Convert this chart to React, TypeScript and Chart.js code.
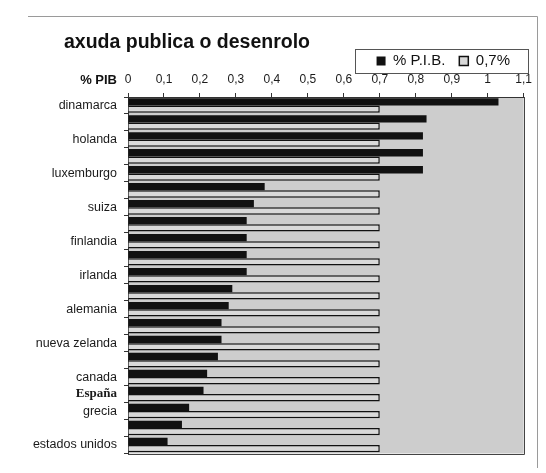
import React, { useEffect, useRef } from 'react';
import { Chart, registerables } from 'chart.js';

Chart.register(...registerables);

const FONT = '"Liberation Sans", Arial, Helvetica, sans-serif';

const titleText = 'axuda publica o desenrolo';
const axisTitle = '% PIB';

const categories = [
  'dinamarca', '', 'holanda', '', 'luxemburgo', '', 'suiza', '', 'finlandia', '',
  'irlanda', '', 'alemania', '', 'nueva zelanda', '', 'canada', 'España', 'grecia', '',
  'estados unidos',
];

const pibValues = [
  1.03, 0.83, 0.82, 0.82, 0.82, 0.38, 0.35, 0.33, 0.33, 0.33,
  0.33, 0.29, 0.28, 0.26, 0.26, 0.25, 0.22, 0.21, 0.17, 0.15,
  0.11,
];

const targetValues = [
  0.7, 0.7, 0.7, 0.7, 0.7, 0.7, 0.7, 0.7, 0.7, 0.7,
  0.7, 0.7, 0.7, 0.7, 0.7, 0.7, 0.7, 0.7, 0.7, 0.7,
  0.7,
];

const seriesLabels = ['% P.I.B.', '0,7%'];

const xMin = 0;
const xMax = 1.1;
const xStep = 0.1;

const decorPlugin = {
  id: 'decor',
  beforeDraw(chart: any) {
    const { ctx, chartArea: a } = chart;
    ctx.save();
    ctx.fillStyle = '#cdcdcd';
    ctx.fillRect(a.left, a.top, a.right - a.left, a.bottom - a.top);
    ctx.restore();
  },
  afterDraw(chart: any) {
    const { ctx, chartArea: a } = chart;
    ctx.save();
    // plot right & bottom border
    ctx.strokeStyle = '#444';
    ctx.lineWidth = 1;
    ctx.beginPath();
    ctx.moveTo(Math.round(a.right) + 0.5, a.top);
    ctx.lineTo(Math.round(a.right) + 0.5, Math.round(a.bottom) + 0.5);
    ctx.lineTo(a.left, Math.round(a.bottom) + 0.5);
    ctx.stroke();

    // outer frame
    ctx.strokeStyle = '#9a9a9a';
    ctx.beginPath();
    ctx.moveTo(20, 8.5);
    ctx.lineTo(529.5, 8.5);
    ctx.lineTo(529.5, 460);
    ctx.stroke();

    // title
    ctx.fillStyle = '#111';
    ctx.font = `bold 19.5px ${FONT}`;
    ctx.textAlign = 'left';
    ctx.textBaseline = 'alphabetic';
    ctx.fillText(titleText, 56, 40);

    // axis label
    ctx.font = `bold 13px ${FONT}`;
    ctx.textAlign = 'right';
    ctx.textBaseline = 'middle';
    ctx.fillText(axisTitle, 109, 72);

    // legend border
    const lg = chart.legend;
    if (lg && lg.legendHitBoxes && lg.legendHitBoxes.length) {
      const hb = lg.legendHitBoxes;
      let minL = Infinity, minT = Infinity, maxB = -Infinity;
      hb.forEach((h: any) => {
        minL = Math.min(minL, h.left);
        minT = Math.min(minT, h.top);
        maxB = Math.max(maxB, h.top + h.height);
      });
      ctx.strokeStyle = '#555';
      ctx.lineWidth = 1;
      const l = Math.round(minL - 22) + 0.5;
      const r = Math.round(a.right + 4) + 0.5;
      const t = Math.round(minT - 5) + 0.5;
      const b = Math.round(maxB + 4) + 0.5;
      ctx.strokeRect(l, t, r - l, b - t);
    }
    ctx.restore();
  },
};

function formatTick(v: number) {
  const r = Math.round(v * 10) / 10;
  return String(r).replace('.', ',');
}

export default function App() {
  const ref = useRef<HTMLCanvasElement | null>(null);

  useEffect(() => {
    if (!ref.current) return;
    const chart = new Chart(ref.current, {
      type: 'bar',
      data: {
        labels: categories,
        datasets: [
          {
            label: seriesLabels[0],
            data: pibValues,
            backgroundColor: '#111111',
            borderWidth: 0,
            categoryPercentage: 0.86,
            barPercentage: 1,
          },
          {
            label: seriesLabels[1],
            data: targetValues,
            backgroundColor: '#d9d9d9',
            borderColor: '#111111',
            borderWidth: 1.5,
            categoryPercentage: 0.86,
            barPercentage: 1,
          },
        ],
      },
      plugins: [decorPlugin],
      options: {
        indexAxis: 'y',
        animation: false,
        responsive: true,
        maintainAspectRatio: false,
        layout: { padding: { left: 10, right: 14, top: 31.5, bottom: 10 } },
        plugins: {
          title: { display: false },
          tooltip: { enabled: false },
          legend: {
            display: true,
            position: 'top',
            align: 'end',
            maxHeight: 32.5,
            labels: {
              boxWidth: 9,
              boxHeight: 9,
              padding: 14,
              color: '#111',
              font: { family: FONT, size: 15 },
            },
          },
        },
        scales: {
          x: {
            type: 'linear',
            position: 'top',
            min: xMin,
            max: xMax,
            ticks: {
              stepSize: xStep,
              padding: 6,
              color: '#1a1a1a',
              font: { family: FONT, size: 12 },
              callback: (v: any) => formatTick(Number(v)),
            },
            grid: { display: true, drawOnChartArea: false, drawTicks: true, tickLength: 4, color: '#333' },
            border: { display: true, color: '#333', width: 1 },
            afterFit: (s: any) => { s.height = 25; },
          },
          y: {
            type: 'category',
            position: 'left',
            ticks: {
              autoSkip: false,
              padding: 7,
              color: '#1a1a1a',
              font: (c: any) =>
                c.index === 17
                  ? { family: '"Liberation Serif", "Times New Roman", serif', size: 13, weight: 'bold' }
                  : { family: FONT, size: 12.5 },
            },
            grid: { display: true, drawOnChartArea: false, drawTicks: true, tickLength: 4, color: '#333', offset: true },
            border: { display: true, color: '#333', width: 1 },
            afterFit: (s: any) => { s.width = 110; },
          },
        },
      } as any,
    });
    return () => chart.destroy();
  }, []);

  return (
    <div style={{ position: 'relative', width: 530, height: 460 }}>
      <canvas ref={ref} />
    </div>
  );
}
